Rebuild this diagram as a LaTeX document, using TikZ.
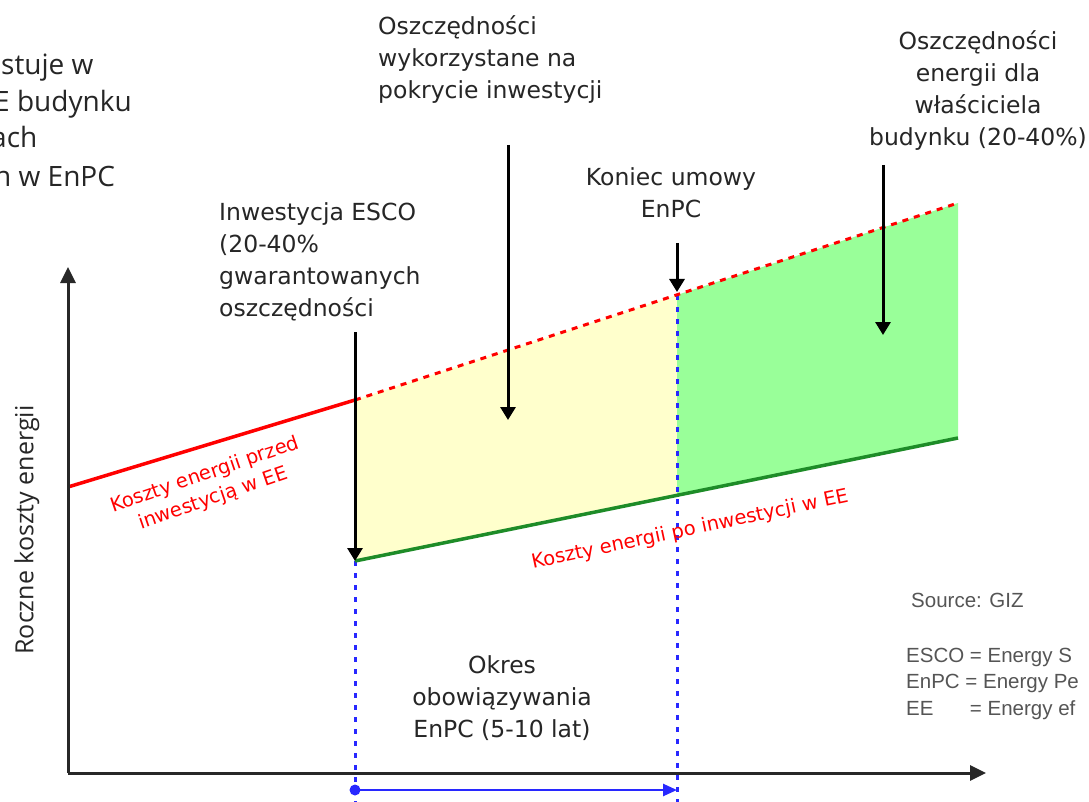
\documentclass[tikz,border=0pt]{standalone}
\usepackage{fontspec}
\setmainfont{DejaVu Sans}
\newfontfamily\osans{Open Sans}
\newfontfamily\arialf{Liberation Sans}
\usetikzlibrary{arrows.meta}
\definecolor{txt}{RGB}{38,38,38}
\definecolor{legtxt}{RGB}{85,85,85}
\definecolor{axisc}{RGB}{40,40,40}
\definecolor{redl}{RGB}{255,0,0}
\definecolor{greenl}{RGB}{30,140,40}
\definecolor{yellowf}{RGB}{255,255,204}
\definecolor{greenf}{RGB}{153,255,153}
\definecolor{bluel}{RGB}{40,40,255}
\begin{document}
\begin{tikzpicture}[x=1pt,y=-1pt,
  lbl/.style={font=\fontsize{23.5}{32}\selectfont, text=txt, inner sep=0pt},
  toplbl/.style={font=\osans\fontsize{28}{37}\selectfont, text=txt, inner sep=0pt, anchor=base west},
  downarrow/.style={line width=3pt, draw=black, -{Triangle[width=15pt,length=13pt]}},
  axisline/.style={line width=3pt, draw=axisc, -{Triangle[width=15pt,length=16pt]}},
  redlbl/.style={font=\fontsize{19.5}{25}\selectfont, text=redl, inner sep=0pt, align=center},
  bluedot/.style={draw=bluel, line width=3pt, dash pattern=on 5pt off 7pt},
  legend/.style={font=\arialf\fontsize{20.5}{25}\selectfont, text=legtxt, inner sep=0pt, anchor=base west}
]
\useasboundingbox (0,0) rectangle (1089,802);
\clip (0,0) rectangle (1089,802);
\fill[white] (0,0) rectangle (1089,802);

% key points
\coordinate (O) at (68,773);
\coordinate (Ytop) at (68,267);
\coordinate (Xend) at (986,773);
\coordinate (R0) at (68,487);
\coordinate (R1) at (355,400);
\coordinate (R2) at (677,295);
\coordinate (R3) at (958,203);
\coordinate (G1) at (355,561);
\coordinate (G2) at (677,495);
\coordinate (G3) at (958,438);
\coordinate (B1) at (355,802);
\coordinate (B2) at (677,802);
\coordinate (P1) at (355,790);
\coordinate (P2) at (677,790);

% fills
\fill[yellowf] (R1) -- (R2) -- (G2) -- (G1) -- cycle;
\fill[greenf] (R2) -- (R3) -- (G3) -- (G2) -- cycle;

% blue dotted verticals
\draw[bluedot] (G1) -- (B1);
\draw[bluedot] (R2) -- (B2);

% cost lines
\draw[redl, line width=3.5pt] (R0) -- (R1);
\draw[redl, line width=3pt, dash pattern=on 6pt off 6pt] (R1) -- (R3);
\draw[greenl, line width=3.5pt] (G1) -- (G3);

% axes
\draw[axisline] (O) -- (Ytop);
\draw[axisline] (O) -- (Xend);

% contract period arrow
\fill[bluel] (P1) circle (5.5);
\draw[bluel, line width=2.5pt, -{Triangle[width=12pt,length=14pt]}] (P1) -- (P2);

% labels
\node[lbl, align=left, anchor=north west] (sav1) at (378,15) {Oszczędności\\wykorzystane na\\pokrycie inwestycji};
\node[lbl, align=center, anchor=north] (sav2) at (978,30) {Oszczędności\\energii dla\\właściciela\\budynku (20-40\%)};
\node[lbl, align=center, anchor=north] (end) at (671,167) {Koniec umowy\\EnPC};
\node[lbl, align=left, anchor=north west] (inv) at (219,202) {Inwestycja ESCO\\(20-40\%\\gwarantowanych\\oszczędności};
\node[lbl, align=center, anchor=north] (per) at (502,655) {Okres\\obowiązywania\\EnPC (5-10 lat)};

% arrow anchors
\coordinate (a1) at (355,332);
\coordinate (a2s) at (508,145);
\coordinate (a2e) at (508,420);
\coordinate (a3s) at (677,243);
\coordinate (a3e) at (677,292);
\coordinate (a4s) at (883,165);
\coordinate (a4e) at (883,335);
\draw[downarrow] (a1) -- (G1);
\draw[downarrow] (a2s) -- (a2e);
\draw[downarrow] (a3s) -- (a3e);
\draw[downarrow] (a4s) -- (a4e);

% red labels
\node[redlbl, rotate=19] (before) at (209,487) {Koszty energii przed\\inwestycją w EE};
\node[redlbl, rotate=12] (after) at (690,530) {Koszty energii po inwestycji w EE};

% y axis label
\node[font=\osans\fontsize{25}{30}\selectfont, text=txt, inner sep=0pt, rotate=90] (ylab) at (27,530) {Roczne koszty energii};

% top-left cut text
\node[toplbl] (t1) at (1,75) {stuje w};
\node[toplbl] (t2) at (-6,112) {E budynku};
\node[toplbl] (t3) at (-9,148) {ach};
\node[toplbl] (t4) at (-6,187) {n w EnPC};

% legend
\node[legend] (src) at (911,607) {Source: GIZ};
\node[legend] (l1) at (906,662) {ESCO = Energy S};
\node[legend] (l2) at (906,688) {EnPC = Energy Pe};
\node[legend] (l3) at (906,715) {EE\hphantom{CO} = Energy ef};
\end{tikzpicture}
\end{document}
